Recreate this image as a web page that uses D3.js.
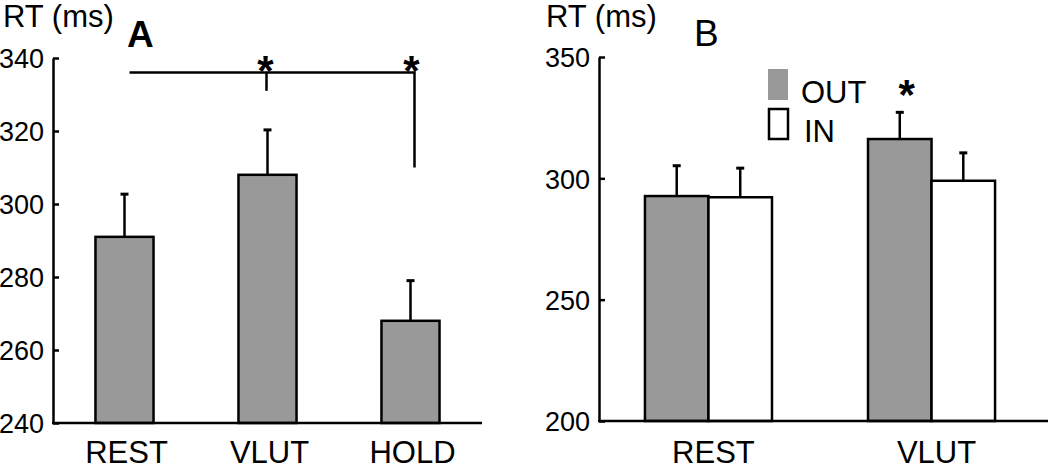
<!DOCTYPE html>
<html>
<head>
<meta charset="utf-8">
<script src="https://cdn.jsdelivr.net/npm/d3@7"></script>
<style>
  body { margin: 0; background: #fff; }
  svg { display: block; font-family: "Liberation Sans", Arial, sans-serif; }
  .axis path, .axis line { stroke: #000; stroke-width: 2.5; }
  .axis text { font-size: 27px; fill: #000; }
</style>
</head>
<body>
<svg id="chart" width="1050" height="470"></svg>
<script>
// panel A
const catsA = ['REST', 'VLUT', 'HOLD']
const meanA = [291, 308, 268]
const errA = [11.7, 12.3, 11]
const ticksA = [240, 260, 280, 300, 320, 340]
// significance bracket: from REST to HOLD, marks at VLUT and HOLD
const bracketA = { level: 336, vlutEnd: 331, holdEnd: 310 }

// panel B
const catsB = ['REST', 'VLUT']
const seriesB = ['OUT', 'IN']
const outB = [292.7, 316.2]
const inB = [292.2, 299]
const errOutB = [12.5, 11]
const errInB = [12, 11.5]
const ticksB = [200, 250, 300, 350]

const svg = d3.select('#chart')
const fill = { OUT: '#999999', IN: '#ffffff' }

// error bar with little cap
function errBar (g, cx, yTop, yEnd) {
  g.append('line')
    .attr('x1', cx).attr('x2', cx)
    .attr('y1', yTop).attr('y2', yEnd)
    .attr('stroke', '#000').attr('stroke-width', 2.5)
  g.append('line')
    .attr('x1', cx - 4).attr('x2', cx + 4)
    .attr('y1', yEnd).attr('y2', yEnd)
    .attr('stroke', '#000').attr('stroke-width', 3)
}

// ---- panel A ----
const xA = d3.scaleBand().domain(catsA).range([53, 482])
  .paddingInner(0.594).paddingOuter(0.297)
const yA = d3.scaleLinear().domain([240, 340]).range([423, 58])

const gA = svg.append('g')

gA.selectAll('rect.bar')
  .data(catsA)
  .enter().append('rect')
    .attr('class', 'bar')
    .attr('x', d => xA(d))
    .attr('y', (d, i) => yA(meanA[i]))
    .attr('width', xA.bandwidth())
    .attr('height', (d, i) => yA(240) - yA(meanA[i]))
    .attr('fill', fill.OUT)
    .attr('stroke', '#000')
    .attr('stroke-width', 2.5)

catsA.forEach((c, i) => {
  errBar(gA, xA(c) + xA.bandwidth() / 2, yA(meanA[i]), yA(meanA[i] + errA[i]))
})

gA.append('g')
    .attr('class', 'axis')
    .attr('transform', 'translate(53,0)')
    .call(d3.axisLeft(yA).tickValues(ticksA).tickSizeInner(-6).tickSizeOuter(0).tickPadding(9))
  .selectAll('text').attr('dy', '0.36em')

gA.append('line')
  .attr('x1', 52).attr('x2', 482)
  .attr('y1', yA(240)).attr('y2', yA(240))
  .attr('stroke', '#000').attr('stroke-width', 2.5)

gA.selectAll('text.cat')
  .data(catsA)
  .enter().append('text')
    .attr('class', 'cat')
    .attr('x', d => xA(d) + xA.bandwidth() / 2 + 2)
    .attr('y', 463)
    .attr('text-anchor', 'middle')
    .attr('font-size', 31)
    .text(d => d)

// bracket
const cRest = xA('REST') + xA.bandwidth() / 2 + 5
const cVlut = xA('VLUT') + xA.bandwidth() / 2 - 1
const cHold = xA('HOLD') + xA.bandwidth() / 2 + 4
gA.append('path')
  .attr('d', `M${cRest},${yA(bracketA.level)}H${cHold}V${yA(bracketA.holdEnd)}`)
  .attr('fill', 'none').attr('stroke', '#000').attr('stroke-width', 2.5)
gA.append('line')
  .attr('x1', cVlut).attr('x2', cVlut)
  .attr('y1', yA(bracketA.level)).attr('y2', yA(bracketA.vlutEnd))
  .attr('stroke', '#000').attr('stroke-width', 2.5)
;[cVlut - 1, cHold - 3].forEach(cx => {
  gA.append('text')
    .attr('x', cx).attr('y', 85)
    .attr('text-anchor', 'middle')
    .attr('font-size', 42).attr('font-weight', 'bold')
    .text('*')
})

gA.append('text').attr('x', 3).attr('y', 27).attr('font-size', 31).text('RT (ms)')
gA.append('text').attr('x', 127).attr('y', 47).attr('font-size', 37).attr('font-weight', 'bold').text('A')

// ---- panel B ----
const xB = d3.scaleBand().domain(catsB).range([599, 1041])
  .paddingInner(0.4305).paddingOuter(0.206)
const xSub = d3.scaleBand().domain(seriesB).range([0, xB.bandwidth()])
const yB = d3.scaleLinear().domain([200, 350]).range([421, 57])

const gB = svg.append('g')
const valsB = { OUT: outB, IN: inB }
const errsB = { OUT: errOutB, IN: errInB }

catsB.forEach((c, i) => {
  seriesB.forEach(s => {
    const x0 = xB(c) + xSub(s)
    gB.append('rect')
      .attr('x', x0)
      .attr('y', yB(valsB[s][i]))
      .attr('width', xSub.bandwidth())
      .attr('height', yB(200) - yB(valsB[s][i]))
      .attr('fill', fill[s])
      .attr('stroke', '#000')
      .attr('stroke-width', 2.5)
  })
  seriesB.forEach(s => {
    const cx = xB(c) + xSub(s) + xSub.bandwidth() / 2
    errBar(gB, cx, yB(valsB[s][i]), yB(valsB[s][i] + errsB[s][i]))
  })
})

gB.append('g')
    .attr('class', 'axis')
    .attr('transform', 'translate(599,0)')
    .call(d3.axisLeft(yB).tickValues(ticksB).tickSizeInner(-6).tickSizeOuter(0).tickPadding(9))
  .selectAll('text').attr('dy', '0.36em')

gB.append('line')
  .attr('x1', 598).attr('x2', 1048)
  .attr('y1', yB(200)).attr('y2', yB(200))
  .attr('stroke', '#000').attr('stroke-width', 2.5)

gB.selectAll('text.cat')
  .data(catsB)
  .enter().append('text')
    .attr('class', 'cat')
    .attr('x', d => xB(d) + xB.bandwidth() / 2 + 5)
    .attr('y', 463)
    .attr('text-anchor', 'middle')
    .attr('font-size', 31)
    .text(d => d)

// significance star above VLUT OUT
gB.append('text')
  .attr('x', xB('VLUT') + xSub('OUT') + xSub.bandwidth() / 2 + 7)
  .attr('y', 109)
  .attr('text-anchor', 'middle')
  .attr('font-size', 42).attr('font-weight', 'bold')
  .text('*')

// legend
const legend = gB.selectAll('g.leg')
  .data(seriesB)
  .enter().append('g')
    .attr('class', 'leg')
    .attr('transform', (d, i) => `translate(768,${69 + i * 39})`)
legend.append('rect')
  .attr('x', d => d === 'OUT' ? 0 : 1)
  .attr('y', d => d === 'OUT' ? 0 : 1)
  .attr('width', d => d === 'OUT' ? 20 : 19)
  .attr('height', d => d === 'OUT' ? 31 : 30)
  .attr('fill', d => fill[d])
  .attr('stroke', d => d === 'OUT' ? 'none' : '#000')
  .attr('stroke-width', 2.5)
legend.append('text')
  .attr('x', d => d === 'OUT' ? 33 : 36)
  .attr('y', 34)
  .attr('font-size', 31)
  .text(d => d)

gB.append('text').attr('x', 546).attr('y', 27).attr('font-size', 31).text('RT (ms)')
gB.append('text').attr('x', 694).attr('y', 46).attr('font-size', 37).text('B')
</script>
</body>
</html>
